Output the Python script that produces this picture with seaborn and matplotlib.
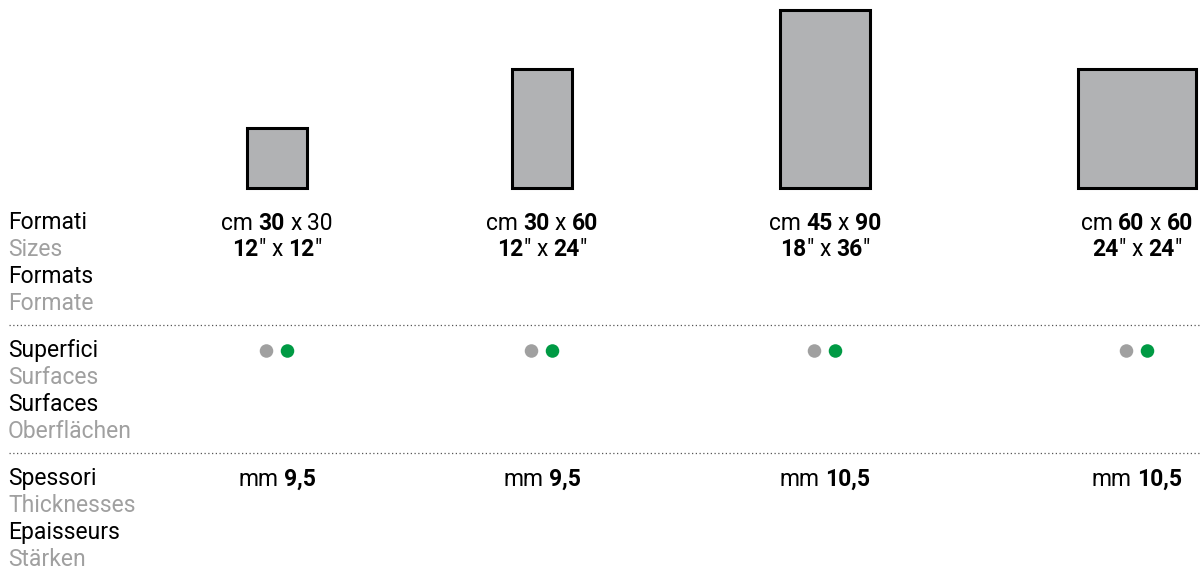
import matplotlib
matplotlib.use("Agg")
import matplotlib.pyplot as plt
import pandas as pd
import seaborn as sns

# tile sizes (cm) and the inch equivalents
width_cm = [30, 30, 45, 60]
height_cm = [30, 60, 90, 60]
bold_cm = [(True, False), (True, True), (True, True), (True, True)]
width_in = [12, 12, 18, 24]
height_in = [12, 24, 36, 24]
thickness_mm = [9.5, 9.5, 10.5, 10.5]
surfaces = [["grey", "green"]] * 4

row_labels = [
    ["Formati", "Sizes", "Formats", "Formate"],
    ["Superfici", "Surfaces", "Surfaces", "Oberflächen"],
    ["Spessori", "Thicknesses", "Epaisseurs", "Stärken"],
]

# layout (pixels)
col_x = [277, 542, 825, 1137]
tile_base = 187.8
px_per_cm = 1.98
group_top = [229, 357, 485]
line_step = 27
sep_y = [325, 453]
FS = 16.5
GREY = "#a0a0a0"
FILL = "#b1b2b4"
DOT_COLORS = {"grey": "#a0a0a0", "green": "#009a44"}

sns.set_theme(style="white")
plt.rcParams["font.family"] = ["Roboto", "DejaVu Sans"]

fig = plt.figure(figsize=(12, 5.69), dpi=100)
ax = fig.add_axes([0, 0, 1, 1])
ax.set_xlim(0, 1200)
ax.set_ylim(569, 0)
ax.axis("off")
renderer = fig.canvas.get_renderer()

# tiles
w_px = [w * px_per_cm for w in width_cm]
h_px = [h * px_per_cm for h in height_cm]
ax.bar(col_x, [-h for h in h_px], width=w_px, bottom=tile_base,
       color=FILL, edgecolor="black", linewidth=2.2)

SP = None


def rich_line(xc, y, pieces):
    gap = FS * 100 / 72 * 0.24
    texts, widths = [], []
    for p in pieces:
        if p is SP:
            texts.append(None)
            widths.append(gap)
            continue
        s, bold = p
        t = ax.text(0, y, s, fontsize=FS, fontweight="bold" if bold else "normal",
                    va="baseline", ha="left", color="black")
        texts.append(t)
        widths.append(t.get_window_extent(renderer).width)
    x = xc - sum(widths) / 2
    for t, w in zip(texts, widths):
        if t is not None:
            t.set_x(x)
        x += w


def num(v):
    return f"{v:g}".replace(".", ",")


for i, xc in enumerate(col_x):
    bw, bh = bold_cm[i]
    rich_line(xc, group_top[0] + 1, [("cm", False), SP, (str(width_cm[i]), bw), SP,
                                     ("x", False), SP, (str(height_cm[i]), bh)])
    rich_line(xc, group_top[0] + line_step, [(str(width_in[i]), True), ("″", False), SP,
                                             ("x", False), SP, (str(height_in[i]), True),
                                             ("″", False)])
    rich_line(xc, group_top[2] + 1, [("mm", False), SP, (num(thickness_mm[i]), True)])

# surface dots
dots = pd.DataFrame([
    {"x": xc + (j - 0.5) * 21, "y": 351, "finish": f}
    for xc, fin in zip(col_x, surfaces) for j, f in enumerate(fin)
])
sns.scatterplot(data=dots, x="x", y="y", hue="finish", palette=DOT_COLORS,
                s=95, linewidth=0, legend=False, ax=ax)

# left labels
for g, labels in enumerate(row_labels):
    for k, lab in enumerate(labels):
        ax.text(8, group_top[g] + k * line_step, lab, fontsize=FS,
                color="black" if k % 2 == 0 else GREY,
                fontweight="normal",
                va="baseline", ha="left")

for y in sep_y:
    ax.hlines(y, 9, 1200, colors="#555555", linestyles=(0, (1, 2)), linewidth=0.9)

fig.savefig("out.png", dpi=100)
